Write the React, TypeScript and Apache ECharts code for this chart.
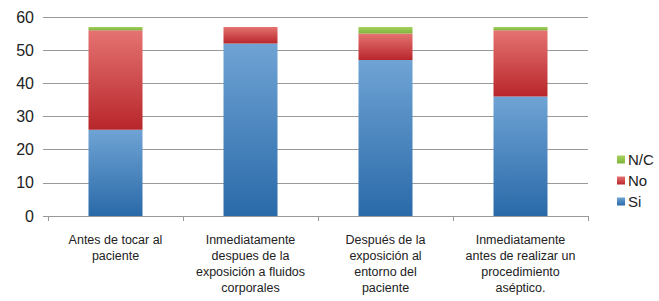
import React, { useEffect, useRef } from "react";
import * as echarts from "echarts";

const categories = [
  "Antes de tocar al\npaciente",
  "Inmediatamente\ndespues de la\nexposición a fluidos\ncorporales",
  "Después de la\nexposición al\nentorno del\npaciente",
  "Inmediatamente\nantes de realizar un\nprocedimiento\naséptico.",
];
const siValues = [26, 52, 47, 36];
const noValues = [30, 5, 8, 20];
const ncValues = [1, 0, 2, 1];
const yTicks = [0, 10, 20, 30, 40, 50, 60];

const grad = (top: string, bottom: string) =>
  new echarts.graphic.LinearGradient(0, 0, 0, 1, [
    { offset: 0, color: top },
    { offset: 1, color: bottom },
  ]);

export default function App() {
  const ref = useRef<HTMLDivElement>(null);
  useEffect(() => {
    const chart = echarts.init(ref.current!, undefined, { renderer: "svg" });
    chart.setOption({
      animation: false,
      backgroundColor: "#ffffff",
      grid: { left: 48, right: 71, top: 17, bottom: 85 },
      legend: {
        orient: "vertical",
        left: 612,
        top: 147,
        itemWidth: 8,
        itemHeight: 8,
        itemGap: 6,
        icon: "rect",
        data: ["N/C", "No", "Si"],
        textStyle: { fontSize: 15, color: "#222", fontFamily: "Liberation Sans, Arial, sans-serif", padding: [0, 0, 0, -2] },
      },
      xAxis: {
        type: "category",
        data: categories,
        axisLine: { show: true, lineStyle: { color: "#999", width: 1 } },
        axisTick: { show: true, length: 5, lineStyle: { color: "#999" } },
        axisLabel: {
          interval: 0,
          fontSize: 12.5,
          lineHeight: 16,
          margin: 16,
          color: "#222",
          fontFamily: "Liberation Sans Narrow, Arial Narrow, Liberation Sans, sans-serif",
        },
      },
      yAxis: {
        type: "value",
        min: yTicks[0],
        max: yTicks[yTicks.length - 1],
        interval: 10,
        axisLine: { show: false },
        axisTick: { show: true, length: 5, lineStyle: { color: "#999" } },
        splitLine: { show: true, lineStyle: { color: "#999", width: 1 } },
        axisLabel: {
          fontSize: 16,
          margin: 14,
          color: "#222",
          fontFamily: "Liberation Sans, Arial, sans-serif",
        },
      },
      series: [
        {
          name: "Si",
          type: "bar",
          stack: "total",
          barWidth: "40%",
          data: siValues,
          itemStyle: { color: grad("#6fa3d4", "#2a6aa9") },
        },
        {
          name: "No",
          type: "bar",
          stack: "total",
          data: noValues,
          itemStyle: { color: grad("#e57371", "#b8262b") },
        },
        {
          name: "N/C",
          type: "bar",
          stack: "total",
          data: ncValues,
          itemStyle: { color: grad("#a6d160", "#7eb43a") },
        },
      ],
    });
    return () => chart.dispose();
  }, []);
  return <div ref={ref} style={{ width: 659, height: 301, position: "absolute", left: 0, top: 0 }} />;
}
